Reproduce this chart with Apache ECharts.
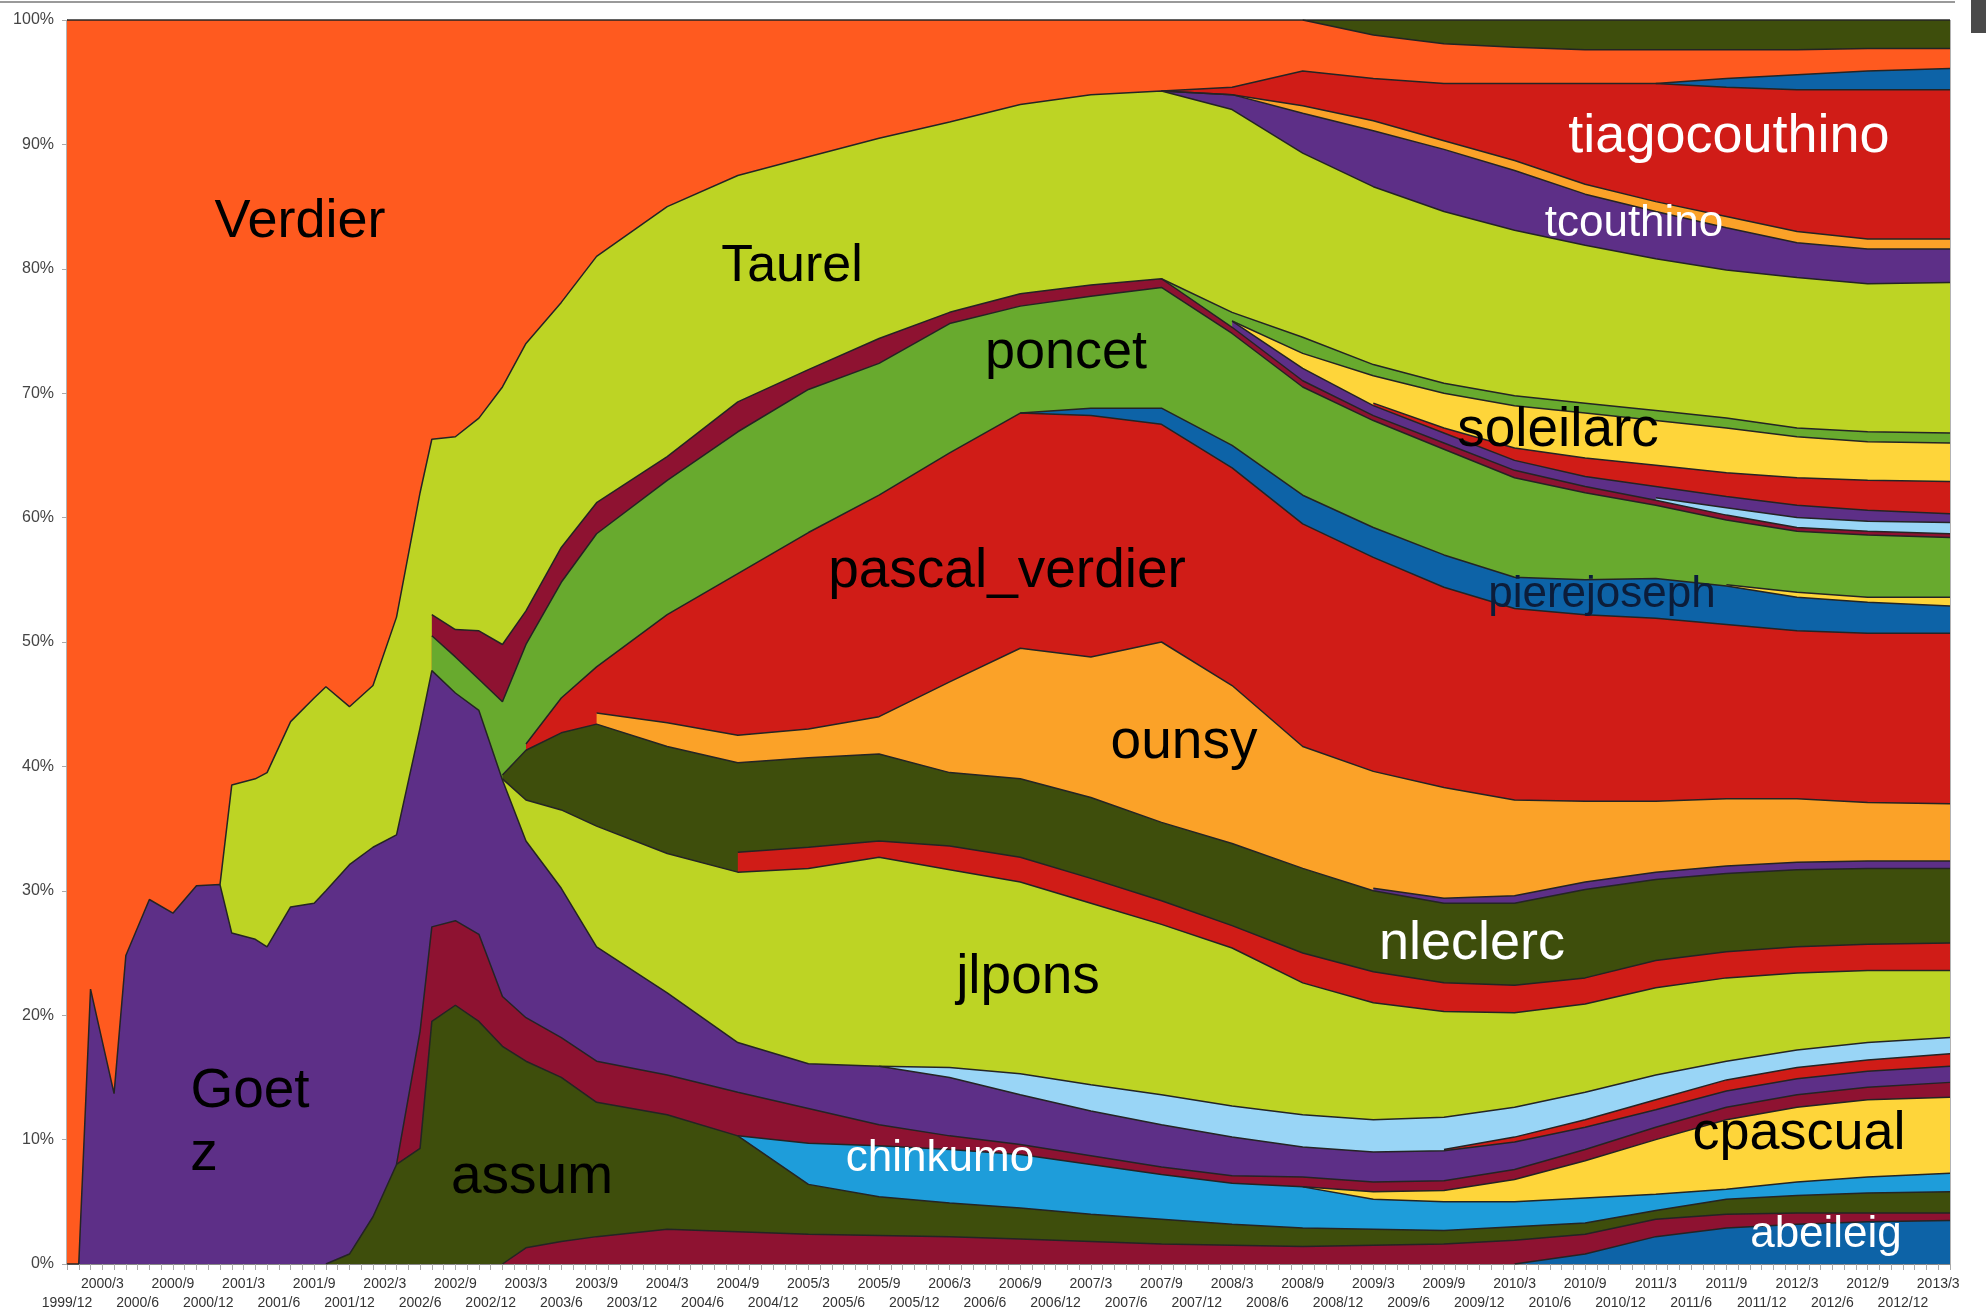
<!DOCTYPE html>
<html>
<head>
<meta charset="utf-8">
<title>Share of contributions per author</title>
<script src="https://cdn.jsdelivr.net/npm/echarts@6/dist/echarts.min.js"></script>
<style>
  html, body { margin: 0; padding: 0; background: #fff; }
  #chart { width: 1986px; height: 1315px; }
</style>
</head>
<body>
<div id="chart"></div>
<script>
const _ = null;

// sampled months, counted from 1999/12 (= 0) up to 2013/4 (= 160)
const months = [0, 1, 2, 4, 5, 7, 9, 11, 13, 14,
  16, 17, 19, 21, 22, 24, 26, 28, 30, 31,
  33, 35, 37, 39, 42, 45, 51, 57, 63, 69,
  75, 81, 87, 93, 99, 105, 111, 117, 123, 129,
  135, 141, 147, 153, 160];

// upper edge (cumulative %) of every band, top band first
const oliveTop = [_,_,_,_,_,_,_,_,_,_, _,_,_,_,_,_,_,_,_,_, _,_,_,_,_,_,_,_,_,_,
  _,_,_,_,_,100,100,100,100,100, 100,100,100,100,100];
const verdier = [100,100,100,100,100,100,100,100,100,100, 100,100,100,100,100,100,100,100,100,100,
  100,100,100,100,100,100,100,100,100,100, 100,100,100,100,100,100,98.8,98.1,97.8,97.6,
  97.6,97.6,97.6,97.7,97.7];
const blueTop = [_,_,_,_,_,_,_,_,_,_, _,_,_,_,_,_,_,_,_,_, _,_,_,_,_,_,_,_,_,_,
  _,_,_,_,_,_,_,_,_,_, 94.9,95.3,95.6,95.9,96.1];
const tiagocouthino = [_,_,_,_,_,_,_,_,_,_, _,_,_,_,_,_,_,_,_,_, _,_,_,_,_,_,_,_,_,_,
  _,_,_,94.3,94.6,95.9,95.3,94.9,94.9,94.9, 94.9,94.6,94.4,94.4,94.4];
const orangeThin = [_,_,_,_,_,_,_,_,_,_, _,_,_,_,_,_,_,_,_,_, _,_,_,_,_,_,_,_,_,_,
  _,_,_,94.3,94.0,93.1,91.9,90.3,88.7,86.8, 85.4,84.2,83.0,82.4,82.4];
const tcouthino = [_,_,_,_,_,_,_,_,_,_, _,_,_,_,_,_,_,_,_,_, _,_,_,_,_,_,_,_,_,_,
  _,_,_,94.3,94.0,92.5,91.1,89.6,87.9,86.0, 84.6,83.3,82.1,81.6,81.6];
const taurel = [_,_,_,_,_,_,_,_,30.5,38.5, 39.0,39.5,43.6,45.5,46.4,44.8,46.5,52.0,62.0,66.3,
  66.5,68.0,70.5,74.0,77.3,81.0,85.0,87.5,89.0,90.5, 91.8,93.2,94.0,94.3,92.8,89.3,86.6,84.6,83.1,81.9,
  80.8,79.9,79.3,78.8,78.9];
const greenThin = [_,_,_,_,_,_,_,_,_,_, _,_,_,_,_,_,_,_,_,_, _,_,_,_,_,_,_,_,_,_,
  _,_,_,79.2,76.5,74.5,72.3,70.8,69.8,69.2, 68.6,68.0,67.2,66.9,66.8];
const soleilarc = [_,_,_,_,_,_,_,_,_,_, _,_,_,_,_,_,_,_,_,_, _,_,_,_,_,_,_,_,_,_,
  _,_,_,_,75.8,73.2,71.4,70.0,69.0,68.4, 67.8,67.2,66.5,66.1,66.0];
const redThin = [_,_,_,_,_,_,_,_,_,_, _,_,_,_,_,_,_,_,_,_, _,_,_,_,_,_,_,_,_,_,
  _,_,_,_,_,_,69.2,67.2,65.6,64.8, 64.2,63.6,63.2,63.0,62.9];
const purpleThin = [_,_,_,_,_,_,_,_,_,_, _,_,_,_,_,_,_,_,_,_, _,_,_,_,_,_,_,_,_,_,
  _,_,_,_,75.8,72.0,69.0,66.8,64.6,63.3, 62.5,61.7,61.0,60.6,60.3];
const skyThin = [_,_,_,_,_,_,_,_,_,_, _,_,_,_,_,_,_,_,_,_, _,_,_,_,_,_,_,_,_,_,
  _,_,_,_,_,_,_,_,_,_, 61.6,60.8,60.0,59.7,59.6];
const darkredThin = [_,_,_,_,_,_,_,_,_,_, _,_,_,_,_,_,_,_,_,52.2,
  51.0,50.9,49.8,52.5,57.6,61.2,64.9,69.3,71.9,74.4, 76.5,78.0,78.7,79.2,75.3,71.0,68.2,66.0,63.8,62.5,
  61.4,60.2,59.2,58.9,58.7];
const poncet = [_,_,_,_,_,_,_,_,_,_, _,_,_,_,_,_,_,_,_,50.5,
  48.8,47.0,45.2,49.8,54.8,58.7,63.0,66.9,70.3,72.4, 75.6,77.0,77.8,78.5,74.8,70.5,67.8,65.5,63.2,62.0,
  61.0,59.8,58.9,58.6,58.4];
const yellowThin = [_,_,_,_,_,_,_,_,_,_, _,_,_,_,_,_,_,_,_,_, _,_,_,_,_,_,_,_,_,_,
  _,_,_,_,_,_,_,_,_,_, _,54.6,54.0,53.6,53.6];
const pierejoseph = [_,_,_,_,_,_,_,_,_,_, _,_,_,_,_,_,_,_,_,_, _,_,_,_,_,_,_,_,_,_,
  _,68.4,68.8,68.8,65.8,61.8,59.2,57.0,55.2,55.0, 55.1,54.5,53.6,53.2,52.9];
const pascalVerdier = [_,_,_,_,_,_,_,_,_,_, _,_,_,_,_,_,_,_,_,_,
  _,_,_,41.8,45.5,48.0,52.2,55.5,58.8,61.8, 65.2,68.4,68.2,67.5,64.0,59.5,56.8,54.4,52.7,52.2,
  51.9,51.4,50.9,50.7,50.7];
const ounsy = [_,_,_,_,_,_,_,_,_,_, _,_,_,_,_,_,_,_,_,_,
  _,_,_,_,_,44.3,43.5,42.5,43.0,44.0, 46.8,49.5,48.8,50.0,46.5,41.6,39.6,38.3,37.3,37.2,
  37.2,37.4,37.4,37.1,37.0];
const purpleThin2 = [_,_,_,_,_,_,_,_,_,_, _,_,_,_,_,_,_,_,_,_, _,_,_,_,_,_,_,_,_,_,
  _,_,_,_,_,_,30.2,29.4,29.6,30.7, 31.5,32.0,32.3,32.4,32.4];
const nleclerc = [_,_,_,_,_,_,_,_,_,_, _,_,_,_,_,_,_,_,_,_,
  _,_,39.3,41.3,42.7,43.4,41.6,40.3,40.7,41.0, 39.5,39.0,37.5,35.5,33.8,31.8,30.0,29.0,29.0,30.1,
  30.9,31.4,31.7,31.8,31.8];
const redThin2 = [_,_,_,_,_,_,_,_,_,_, _,_,_,_,_,_,_,_,_,_,
  _,_,_,_,_,_,_,33.1,33.5,34.0, 33.6,32.7,31.0,29.2,27.2,25.0,23.5,22.6,22.4,23.0,
  24.4,25.1,25.5,25.7,25.8];
const jlpons = [_,_,_,_,_,_,_,_,_,_, _,_,_,_,_,_,_,_,_,_,
  _,_,39.0,37.3,36.5,35.2,33.0,31.5,31.8,32.7, 31.7,30.7,29.0,27.3,25.4,22.6,21.0,20.3,20.2,20.9,
  22.2,23.0,23.4,23.6,23.6];
const skyBand = [_,_,_,_,_,_,_,_,_,_, _,_,_,_,_,_,_,_,_,_,
  _,_,_,_,_,_,_,_,_,15.9, 15.8,15.3,14.4,13.6,12.7,12.0,11.6,11.8,12.6,13.8,
  15.2,16.3,17.2,17.8,18.2];
const redThin3 = [_,_,_,_,_,_,_,_,_,_, _,_,_,_,_,_,_,_,_,_, _,_,_,_,_,_,_,_,_,_,
  _,_,_,_,_,_,_,9.2,10.2,11.6, 13.2,14.8,15.8,16.4,16.9];
const goetz = [0,0,22.1,13.7,24.8,29.3,28.2,30.4,30.5,26.6, 26.1,25.5,28.7,29.0,30.0,32.1,33.5,34.5,43.1,47.7,
  45.9,44.5,38.9,34.0,30.2,25.5,21.8,17.8,16.1,15.9, 15.0,13.6,12.3,11.2,10.2,9.4,9.0,9.1,9.8,11.0,
  12.4,13.9,14.9,15.5,15.9];
const darkred = [_,_,_,_,_,_,_,_,_,_, _,_,_,_,_,_,_,8.0,18.7,27.1,
  27.6,26.5,21.5,19.8,18.2,16.3,15.2,13.8,12.5,11.2, 10.3,9.6,8.7,7.8,7.1,7.0,6.6,6.7,7.6,9.2,
  11.0,12.6,13.6,14.2,14.6];
const cpascual = [_,_,_,_,_,_,_,_,_,_, _,_,_,_,_,_,_,_,_,_, _,_,_,_,_,_,_,_,_,_,
  _,_,_,_,_,6.2,5.8,5.9,6.8,8.3, 10.0,11.6,12.6,13.2,13.4];
const chinkumo = [_,_,_,_,_,_,_,_,_,_, _,_,_,_,_,_,_,_,_,_,
  _,_,_,_,_,_,_,10.3,9.7,9.5, 9.2,8.8,8.0,7.2,6.5,6.2,5.2,5.0,5.0,5.3,
  5.6,6.0,6.6,7.0,7.3];
const assum = [_,_,_,_,_,_,_,_,_,_, _,_,_,_,0,0.8,3.8,8.0,9.3,19.5,
  20.8,19.5,17.5,16.3,15.0,13.0,12.0,10.3,6.4,5.4, 4.9,4.5,4.0,3.6,3.2,2.9,2.8,2.7,3.0,3.3,
  4.3,5.2,5.5,5.7,5.8];
const darkredBottom = [_,_,_,_,_,_,_,_,_,_, _,_,_,_,_,_,_,_,_,_,
  _,_,0,1.3,1.8,2.2,2.8,2.6,2.4,2.3, 2.2,2.0,1.8,1.6,1.5,1.4,1.5,1.6,1.9,2.4,
  3.6,4.0,4.1,4.1,4.1];
const abeileig = [_,_,_,_,_,_,_,_,_,_, _,_,_,_,_,_,_,_,_,_, _,_,_,_,_,_,_,_,_,_,
  _,_,_,_,_,_,_,_,0,0.8, 2.2,2.9,3.2,3.4,3.5];

const C = {
  orange: '#ff5a1f', lime: '#bdd424', purple: '#5d2f87', olive: '#3e4e0c',
  wine: '#8e1231', green: '#68aa2e', red: '#d01c17', amber: '#fba228',
  navy: '#0d63a7', cyan: '#1e9dda', sky: '#99d5f6', yellow: '#fed53a'
};

// painted from the top band down; each band fills from its upper edge to 0
const bands = [
  ['other (top)', oliveTop, C.olive],
  ['Verdier', verdier, C.orange],
  ['other (blue)', blueTop, C.navy],
  ['tiagocouthino', tiagocouthino, C.red],
  ['other (orange)', orangeThin, C.amber],
  ['tcouthino', tcouthino, C.purple],
  ['Taurel', taurel, C.lime],
  ['other (green)', greenThin, C.green],
  ['soleilarc', soleilarc, C.yellow],
  ['other (red)', redThin, C.red],
  ['other (purple)', purpleThin, C.purple],
  ['other (sky)', skyThin, C.sky],
  ['other (wine)', darkredThin, C.wine],
  ['poncet', poncet, C.green],
  ['other (yellow)', yellowThin, C.yellow],
  ['pierejoseph', pierejoseph, C.navy],
  ['pascal_verdier', pascalVerdier, C.red],
  ['ounsy', ounsy, C.amber],
  ['other (purple 2)', purpleThin2, C.purple],
  ['nleclerc', nleclerc, C.olive],
  ['other (red 2)', redThin2, C.red],
  ['jlpons', jlpons, C.lime],
  ['other (sky 2)', skyBand, C.sky],
  ['other (red 3)', redThin3, C.red],
  ['Goetz', goetz, C.purple],
  ['other (wine 2)', darkred, C.wine],
  ['cpascual', cpascual, C.yellow],
  ['chinkumo', chinkumo, C.cyan],
  ['assum', assum, C.olive],
  ['other (wine 3)', darkredBottom, C.wine],
  ['abeileig', abeileig, C.navy]
];

const annotations = [
  ['Verdier', 300, 222, 54, '#000'],
  ['Taurel', 792, 267, 52, '#000'],
  ['poncet', 1066, 353, 54, '#000'],
  ['pascal_verdier', 1007, 572, 55, '#000'],
  ['ounsy', 1184, 743, 55, '#000'],
  ['jlpons', 1028, 978, 55, '#000'],
  ['nleclerc', 1472, 944, 54, '#fff'],
  ['soleilarc', 1558, 431, 55, '#000'],
  ['pierejoseph', 1602, 595, 44, '#0c1d3a'],
  ['tiagocouthino', 1729, 137, 54, '#fff'],
  ['tcouthino', 1634, 224, 44, '#fff'],
  ['Goet', 250, 1092, 55, '#000'],
  ['z', 204, 1155, 55, '#000'],
  ['assum', 532, 1178, 55, '#000'],
  ['chinkumo', 940, 1159, 44, '#fff'],
  ['cpascual', 1799, 1134, 54, '#000'],
  ['abeileig', 1826, 1235, 44, '#fff']
];

function monthLabel(v) {
  const k = 11 + v;
  return (1999 + Math.floor(k / 12)) + '/' + (k % 12 + 1);
}

const chart = echarts.init(document.getElementById('chart'), null, { renderer: 'canvas' });

chart.setOption({
  animation: false,
  backgroundColor: '#fff',
  grid: { left: 67, right: 36, top: 20, bottom: 51, show: true, borderColor: '#666', borderWidth: 1 },
  xAxis: {
    type: 'value',
    min: 0,
    max: 160,
    interval: 1,
    splitLine: { show: false },
    axisLine: { show: true, lineStyle: { color: '#888', width: 1 } },
    axisTick: { show: true, length: 6, lineStyle: { color: '#aaa' } },
    axisLabel: {
      margin: 11,
      fontSize: 14,
      lineHeight: 19,
      color: '#333',
      fontFamily: 'Liberation Sans',
      formatter: function (v) {
        v = Math.round(v);
        if (v % 3 !== 0) return '';
        return (v / 3) % 2 === 0 ? '\n' + monthLabel(v) : monthLabel(v);
      }
    }
  },
  yAxis: {
    type: 'value',
    min: 0,
    max: 100,
    interval: 10,
    splitLine: { show: false },
    axisLine: { show: true, lineStyle: { color: '#555' } },
    axisTick: { show: true, length: 5, lineStyle: { color: '#aaa' } },
    axisLabel: { formatter: '{value}%', fontSize: 16, color: '#444', margin: 13, fontFamily: 'Liberation Sans' }
  },
  series: bands.map(([name, values, color]) => ({
    name: name,
    type: 'line',
    data: months.map((m, i) => [m, values[i]]),
    showSymbol: false,
    symbol: 'none',
    connectNulls: false,
    silent: true,
    lineStyle: { color: '#242424', width: 1.5 },
    itemStyle: { color: color },
    areaStyle: { color: color, opacity: 1 },
    emphasis: { disabled: true }
  })),
  graphic: [
    { type: 'rect', shape: { x: 0, y: 1, width: 1955, height: 2 }, style: { fill: '#9a9a9a' }, silent: true },
    { type: 'rect', shape: { x: 1971, y: 0, width: 15, height: 33 }, style: { fill: '#4a4a4a' }, silent: true }
  ].concat(annotations.map(([text, x, y, size, color]) => ({
    type: 'text',
    x: x,
    y: y,
    z: 100,
    silent: true,
    style: {
      text: text,
      fill: color,
      font: size + 'px "Liberation Sans", Arial, sans-serif',
      align: 'center',
      verticalAlign: 'middle'
    }
  })))
});
</script>
</body>
</html>
